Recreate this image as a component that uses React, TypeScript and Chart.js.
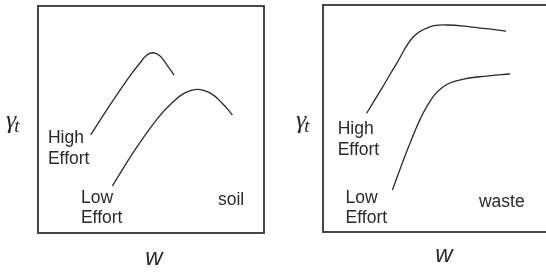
import React, { useEffect, useRef } from "react";
import { Chart, registerables } from "chart.js";

Chart.register(...registerables);

// Soil panel (x: moisture content w, y: unit weight γt, arbitrary 0-100 units)
const soilHighX = [23.3, 31.9, 40.7, 45.1, 48.2, 50.9, 54.0, 57.1, 60.2];
const soilHighY = [43.2, 56.4, 69.2, 74.9, 78.4, 79.4, 78.0, 74.0, 69.6];
const soilLowX = [32.9, 42.9, 53.1, 59.7, 65.0, 70.4, 76.1, 81.4, 86.0];
const soilLowY = [20.7, 36.6, 50.7, 57.7, 61.7, 63.3, 61.7, 57.3, 52.0];

// Waste panel
const wasteHighX = [19.3, 26.1, 32.6, 40.0, 47.3, 54.7, 65.0, 81.0];
const wasteHighY = [52.3, 63.4, 74.3, 86.0, 90.4, 91.2, 90.4, 88.5];
const wasteLowX = [30.7, 38.5, 45.9, 53.2, 62.1, 72.4, 82.7];
const wasteLowY = [18.5, 39.1, 55.2, 64.0, 67.3, 68.7, 69.6];

type Lbl = { text: string; x: number; y: number };

const soilLabels: Lbl[] = [
  { text: "High", x: 4.4, y: 39.6 },
  { text: "Effort", x: 4.4, y: 30.4 },
  { text: "Low", x: 19.0, y: 13.3 },
  { text: "Effort", x: 19.0, y: 4.4 },
  { text: "soil", x: 79.6, y: 12.3 },
];
const wasteLabels: Lbl[] = [
  { text: "High", x: 6.5, y: 43.2 },
  { text: "Effort", x: 6.5, y: 33.9 },
  { text: "Low", x: 10.0, y: 12.9 },
  { text: "Effort", x: 10.0, y: 3.8 },
  { text: "waste", x: 69.0, y: 11.1 },
];

const INK = "#2a2a2a";

function pts(xs: number[], ys: number[]) {
  return xs.map((x, i) => ({ x, y: ys[i] }));
}

type PanelCfg = {
  width: number;
  padding: { left: number; right: number; top: number; bottom: number };
  high: { x: number; y: number }[];
  low: { x: number; y: number }[];
  labels: Lbl[];
  gammaX: number;
  gammaY: number;
  wX: number;
  wY: number;
};

function Panel({ cfg, left }: { cfg: PanelCfg; left: number }) {
  const ref = useRef<HTMLCanvasElement | null>(null);
  useEffect(() => {
    if (!ref.current) return;
    const deco = {
      id: "deco",
      afterDraw(chart: any) {
        const ctx = chart.ctx;
        const a = chart.chartArea;
        const xs = chart.scales.x;
        const ys = chart.scales.y;
        ctx.save();
        ctx.strokeStyle = "#333";
        ctx.lineWidth = 1.8;
        ctx.strokeRect(a.left, a.top, a.right - a.left, a.bottom - a.top);
        ctx.fillStyle = INK;
        ctx.textBaseline = "alphabetic";
        ctx.textAlign = "left";
        ctx.font = '17.5px "Liberation Sans", Arial, sans-serif';
        for (const l of cfg.labels) {
          ctx.fillText(l.text, xs.getPixelForValue(l.x), ys.getPixelForValue(l.y));
        }
        // y axis title γt
        ctx.font = 'italic 26px "Liberation Serif", serif';
        ctx.fillText("γ", cfg.gammaX, cfg.gammaY);
        const gw = ctx.measureText("γ").width;
        ctx.font = 'italic 19px "Liberation Serif", serif';
        ctx.fillText("t", cfg.gammaX + gw - 2, cfg.gammaY + 4);
        // x axis title w
        ctx.font = 'italic 24px "Liberation Sans", Arial, sans-serif';
        ctx.textAlign = "center";
        ctx.fillText("w", cfg.wX, cfg.wY);
        ctx.restore();
      },
    };
    const line = (data: { x: number; y: number }[]) => ({
      data,
      borderColor: INK,
      borderWidth: 1.3,
      pointRadius: 0,
      fill: false,
      tension: 0.4,
    });
    const chart = new Chart(ref.current, {
      type: "line",
      data: { datasets: [line(cfg.high), line(cfg.low)] as any },
      options: {
        animation: false,
        responsive: false,
        devicePixelRatio: 1,
        layout: { padding: cfg.padding },
        plugins: { legend: { display: false }, tooltip: { enabled: false } },
        events: [],
        scales: {
          x: { type: "linear", min: 0, max: 100, display: false },
          y: { type: "linear", min: 0, max: 100, display: false },
        },
      },
      plugins: [deco],
    });
    return () => chart.destroy();
  }, [cfg]);
  return (
    <canvas
      ref={ref}
      width={cfg.width}
      height={272}
      style={{ position: "absolute", left, top: 0, width: cfg.width, height: 272 }}
    />
  );
}

const soilCfg: PanelCfg = {
  width: 273,
  padding: { left: 38, right: 9, top: 6, bottom: 39 },
  high: pts(soilHighX, soilHighY),
  low: pts(soilLowX, soilLowY),
  labels: soilLabels,
  gammaX: 6,
  gammaY: 128,
  wX: 154,
  wY: 265,
};

const wasteCfg: PanelCfg = {
  width: 290,
  padding: { left: 50, right: 14, top: 5, bottom: 40 },
  high: pts(wasteHighX, wasteHighY),
  low: pts(wasteLowX, wasteLowY),
  labels: wasteLabels,
  gammaX: 23,
  gammaY: 128,
  wX: 171,
  wY: 262,
};

export default function App() {
  return (
    <div
      style={{
        position: "fixed",
        left: 0,
        top: 0,
        width: 546,
        height: 272,
        overflow: "hidden",
        background: "#fff",
      }}
    >
      <Panel cfg={soilCfg} left={0} />
      <Panel cfg={wasteCfg} left={273} />
    </div>
  );
}
